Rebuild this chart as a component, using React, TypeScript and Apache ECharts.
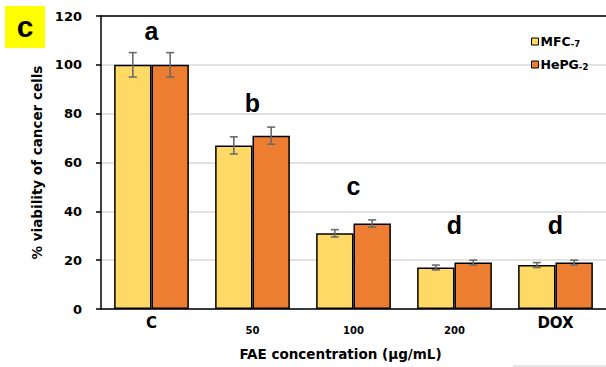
import React, { useEffect, useRef } from "react";
import * as echarts from "echarts";

const categories = ["C", "50", "100", "200", "DOX"];
const mfc7 = [100, 67, 31, 17, 18];
const mfc7Err = [5, 3.5, 1.5, 1, 1];
const hepg2 = [100, 71, 35, 19, 19];
const hepg2Err = [5, 3.5, 1.5, 1, 1];
const letters = ["a", "b", "c", "d", "d"];
const letterLevel = [114, 84.5, 50.5, 34.4, 34.2];
const yTicks = { min: 0, max: 120, interval: 20 };

const YELLOW = "#FFD966";
const ORANGE = "#ED7D31";
const FONT_NUM = "DejaVu Sans";
const FONT_TXT = "Liberation Sans";
const GAP = 0.26;

function errorSeries(name: string, vals: number[], errs: number[], side: number) {
  return {
    type: "custom",
    name,
    z: 5,
    silent: true,
    data: vals.map((v, i) => [i, v, errs[i]]),
    renderItem: (params: any, api: any) => {
      const idx = api.value(0);
      const v = api.value(1);
      const e = api.value(2);
      const c = api.coord([idx, v]);
      const band = api.size([1, 0])[0];
      const bw = (band * (1 - GAP)) / 2;
      const x = c[0] + (side * bw) / 2;
      const yt = api.coord([idx, v + e])[1];
      const yb = api.coord([idx, v - e])[1];
      const cap = 4;
      const style = { stroke: "#6b6b6b", lineWidth: 1.6 };
      return {
        type: "group",
        children: [
          { type: "line", shape: { x1: x, y1: yt, x2: x, y2: yb }, style },
          { type: "line", shape: { x1: x - cap, y1: yt, x2: x + cap, y2: yt }, style },
          { type: "line", shape: { x1: x - cap, y1: yb, x2: x + cap, y2: yb }, style },
        ],
      };
    },
  };
}

export default function App() {
  const ref = useRef<HTMLDivElement>(null);
  useEffect(() => {
    if (!ref.current) return;
    const chart = echarts.init(ref.current, null, { renderer: "svg" });
    chart.setOption({
      animation: false,
      backgroundColor: "#ffffff",
      grid: { left: 101, right: 0, top: 16, bottom: 58 },
      legend: {
        data: ["MFC-7", "HePG-2"],
        orient: "vertical",
        left: 531,
        top: 35,
        padding: 0,
        itemWidth: 7,
        itemHeight: 7,
        itemGap: 10,
        icon: "rect",
        itemStyle: { borderColor: "#000", borderWidth: 1 },
        formatter: (n: string) => {
          const [a, b] = n.split("-");
          return `{m|${a}}{s|-${b}}`;
        },
        textStyle: {
          padding: [0, 0, 0, -3],
          rich: {
            m: { fontFamily: FONT_NUM, fontWeight: "bold", fontSize: 12.5, color: "#000" },
            s: { fontFamily: FONT_NUM, fontWeight: "bold", fontSize: 8.5, color: "#000", padding: [4, 0, 0, 0] },
          },
        },
      },
      xAxis: [
        {
          type: "category",
          data: categories,
          axisLine: { lineStyle: { color: "#000", width: 1.5 } },
          axisTick: { show: false },
          axisLabel: {
            margin: 6,
            verticalAlign: "top",
            formatter: (v: string) => (v === "C" || v === "DOX" ? `{b|${v}}` : `{s|${v}}`),
            rich: {
              b: { fontFamily: FONT_NUM, fontWeight: "bold", fontSize: 15, color: "#000" },
              s: { fontFamily: FONT_NUM, fontWeight: "bold", fontSize: 10, color: "#000", padding: [10, 0, 0, 0] },
            },
          },
          name: "FAE concentration (µg/mL)",
          nameLocation: "middle",
          nameGap: 38,
          nameTextStyle: {
            fontFamily: FONT_NUM,
            fontWeight: "bold",
            fontSize: 13.5,
            color: "#000",
            padding: [0, 26, 0, 0],
          },
        },
        {
          type: "category",
          data: categories,
          position: "top",
          axisLine: { lineStyle: { color: "#000", width: 1.5 } },
          axisTick: { show: false },
          axisLabel: { show: false },
        },
      ],
      yAxis: {
        type: "value",
        min: yTicks.min,
        max: yTicks.max,
        interval: yTicks.interval,
        axisLine: { show: true, lineStyle: { color: "#000", width: 1.5 } },
        axisTick: { show: true, inside: false, length: 5, lineStyle: { color: "#000", width: 1.5 } },
        splitLine: { lineStyle: { color: "#d9d9d9", width: 1.5 } },
        axisLabel: {
          margin: 19,
          fontFamily: FONT_NUM,
          fontWeight: "bold",
          fontSize: 13,
          color: "#000",
        },
        name: "% viability of cancer cells",
        nameLocation: "middle",
        nameGap: 56,
        nameTextStyle: { fontFamily: FONT_NUM, fontWeight: "bold", fontSize: 13.5, color: "#000" },
      },
      series: [
        {
          type: "bar",
          name: "MFC-7",
          data: mfc7,
          barGap: "0%",
          barCategoryGap: GAP * 100 + "%",
          itemStyle: { color: YELLOW, borderColor: "#000", borderWidth: 1.5 },
        },
        {
          type: "bar",
          name: "HePG-2",
          data: hepg2,
          barGap: "0%",
          barCategoryGap: GAP * 100 + "%",
          itemStyle: { color: ORANGE, borderColor: "#000", borderWidth: 1.5 },
        },
        errorSeries("errMFC", mfc7, mfc7Err, -1),
        errorSeries("errHePG", hepg2, hepg2Err, 1),
        {
          type: "custom",
          name: "letters",
          z: 6,
          silent: true,
          data: letters.map((l, i) => [i, letterLevel[i], l]),
          renderItem: (params: any, api: any) => {
            const p = api.coord([api.value(0), api.value(1)]);
            return {
              type: "text",
              x: p[0],
              y: p[1],
              style: {
                text: letters[params.dataIndex],
                fontFamily: FONT_TXT,
                fontWeight: "bold",
                fontSize: 25,
                fill: "#000",
                align: "center",
                verticalAlign: "middle",
              },
            };
          },
        },
      ],
      graphic: [
        { type: "rect", shape: { x: 5, y: 6, width: 40, height: 42 }, style: { fill: "#FFFF00" } },
        {
          type: "text",
          x: 25,
          y: 26,
          style: {
            text: "c",
            fontFamily: FONT_TXT,
            fontWeight: "bold",
            fontSize: 30,
            fill: "#000",
            align: "center",
            verticalAlign: "middle",
          },
        },
        {
          type: "line",
          shape: { x1: 513, y1: 366, x2: 606, y2: 366 },
          style: { stroke: "#dddddd", lineWidth: 1.5 },
        },
      ],
    });
    return () => chart.dispose();
  }, []);
  return <div ref={ref} style={{ width: 606, height: 367, position: "fixed", left: 0, top: 0 }} />;
}
